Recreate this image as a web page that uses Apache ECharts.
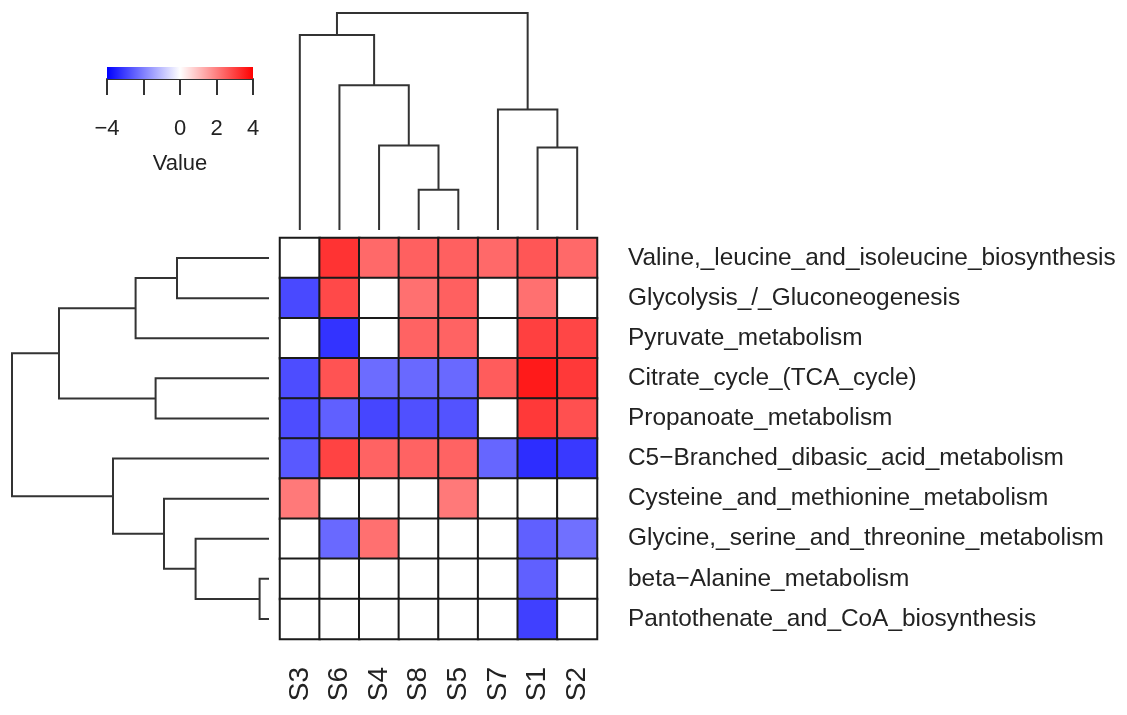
<!DOCTYPE html>
<html>
<head>
<meta charset="utf-8">
<script src="https://cdn.jsdelivr.net/npm/echarts@6/dist/echarts.min.js"></script>
<style>
  html, body { margin: 0; padding: 0; background: #fff; }
  #chart { width: 1127px; height: 715px; }
</style>
</head>
<body>
<div id="chart"></div>
<script>
// Samples in dendrogram (display) order, left to right
const samples = ['S3', 'S6', 'S4', 'S8', 'S5', 'S7', 'S1', 'S2'];

// Pathways in dendrogram (display) order, top to bottom
const pathways = [
  'Valine,_leucine_and_isoleucine_biosynthesis',
  'Glycolysis_/_Gluconeogenesis',
  'Pyruvate_metabolism',
  'Citrate_cycle_(TCA_cycle)',
  'Propanoate_metabolism',
  'C5\u2212Branched_dibasic_acid_metabolism',
  'Cysteine_and_methionine_metabolism',
  'Glycine,_serine_and_threonine_metabolism',
  'beta\u2212Alanine_metabolism',
  'Pantothenate_and_CoA_biosynthesis'
];

// Scaled values, one row per pathway, columns follow `samples`
const values = [
  [ 0.0,  3.2,  2.35,  2.5,  2.5,  2.35,  2.65,  2.35],
  [-2.85, 2.85, 0.0,   2.25, 2.5,  0.0,   2.25,  0.0 ],
  [ 0.0, -3.2,  0.0,   2.45, 2.45, 0.0,   3.0,   2.9 ],
  [-2.8,  2.7, -2.3,  -2.35,-2.35, 2.55,  3.6,   3.1 ],
  [-2.8, -2.5, -2.9,  -2.75,-2.7,  0.0,   3.1,   2.75],
  [-2.6,  2.95, 2.45,  2.45, 2.45,-2.4,  -3.3,  -3.1 ],
  [ 2.1,  0.0,  0.0,   0.0,  2.1,  0.0,   0.0,   0.0 ],
  [ 0.0, -2.35, 2.25,  0.0,  0.0,  0.0,  -2.5,  -2.25],
  [ 0.0,  0.0,  0.0,   0.0,  0.0,  0.0,  -2.5,   0.0 ],
  [ 0.0,  0.0,  0.0,   0.0,  0.0,  0.0,  -3.0,   0.0 ]
];

// Column clustering (hclust style: negative = leaf position, 1-based; positive = earlier merge)
const colMerge = [[-4, -5], [-7, -8], [-3, 1], [-6, 2], [-2, 3], [-1, 5], [6, 4]];
const colHeight = [2.0, 4.1, 4.2, 6.0, 7.2, 9.7, 10.8];

// Row clustering
const rowMerge = [[-9, -10], [-8, 1], [-1, -2], [-7, 2], [-4, -5], [3, -3], [-6, 4], [6, 5], [8, 7]];
const rowHeight = [0.47, 3.67, 4.6, 5.25, 5.67, 6.67, 7.8, 10.5, 12.85];

// Colour key
const keyRange = [-4, 4];
const keyTicks = [-4, -2, 0, 2, 4];
const keyTickLabels = ['\u22124', '', '0', '2', '4'];
const keyTitle = 'Value';

// Build U-shaped links [posA, hA, posB, hB, h] from a merge table
function dendroLinks(merge, heights) {
  const pos = [], hgt = [], links = [];
  const at = (i) => i < 0 ? [-i - 1, 0] : [pos[i - 1], hgt[i - 1]];
  merge.forEach((m, k) => {
    const a = at(m[0]), b = at(m[1]);
    links.push([a[0], a[1], b[0], b[1], heights[k]]);
    pos.push((a[0] + b[0]) / 2);
    hgt.push(heights[k]);
  });
  return links;
}

const heatData = [];
values.forEach((row, r) => row.forEach((v, c) => heatData.push([c, r, v])));

const FONT = "'Liberation Sans', Arial, sans-serif";
const LINK = { stroke: '#333', lineWidth: 2, fill: null };

const chart = echarts.init(document.getElementById('chart'), null, { renderer: 'canvas' });

chart.setOption({
  backgroundColor: '#fff',
  animation: false,
  textStyle: { fontFamily: FONT },
  grid: [
    { left: 280, top: 238, width: 317, height: 401 },          // heatmap
    { left: 280, top: 13, width: 317, height: 217 },            // column dendrogram
    { left: 12, top: 238, width: 257, height: 401 },            // row dendrogram
    { left: 107, top: 67, width: 146, height: 12 }              // colour key
  ],
  xAxis: [
    {
      gridIndex: 0, type: 'category', data: samples, position: 'bottom',
      axisLine: { show: false }, axisTick: { show: false }, splitLine: { show: false },
      axisLabel: { rotate: 90, margin: 28, fontSize: 28, color: '#222', fontFamily: FONT }
    },
    { gridIndex: 1, type: 'value', min: -0.5, max: samples.length - 0.5, show: false },
    { gridIndex: 2, type: 'value', min: 0, max: rowHeight[rowHeight.length - 1], inverse: true, show: false },
    {
      gridIndex: 3, type: 'value', min: keyRange[0], max: keyRange[1], interval: 2,
      position: 'bottom',
      axisLine: { show: true, onZero: false, lineStyle: { color: '#333', width: 2 } },
      axisTick: { show: true, length: 16, lineStyle: { color: '#333', width: 2 } },
      splitLine: { show: false },
      axisLabel: {
        margin: 39, fontSize: 22, color: '#222', fontFamily: FONT,
        formatter: (v) => keyTickLabels[keyTicks.indexOf(v)] ?? ''
      },
      name: keyTitle, nameLocation: 'middle', nameGap: 74,
      nameTextStyle: { fontSize: 22, color: '#222', fontFamily: FONT }
    }
  ],
  yAxis: [
    {
      gridIndex: 0, type: 'category', data: pathways, inverse: true, position: 'right',
      axisLine: { show: false }, axisTick: { show: false }, splitLine: { show: false },
      axisLabel: { margin: 31, fontSize: 24.4, color: '#222', fontFamily: FONT, align: 'left' }
    },
    { gridIndex: 1, type: 'value', min: 0, max: colHeight[colHeight.length - 1], show: false },
    { gridIndex: 2, type: 'value', min: -0.5, max: pathways.length - 0.5, inverse: true, show: false },
    { gridIndex: 3, type: 'value', min: 0, max: 1, show: false }
  ],
  visualMap: {
    show: false, type: 'continuous', seriesIndex: 0,
    min: keyRange[0], max: keyRange[1],
    inRange: { color: ['#0000FF', '#FFFFFF', '#FF0000'] }
  },
  series: [
    {
      type: 'heatmap', xAxisIndex: 0, yAxisIndex: 0, data: heatData,
      itemStyle: { borderColor: '#1a1a1a', borderWidth: 2 },
      emphasis: { disabled: true }
    },
    {
      // column dendrogram: x = leaf position, y = merge height
      type: 'custom', xAxisIndex: 1, yAxisIndex: 1, silent: true,
      data: dendroLinks(colMerge, colHeight),
      renderItem: (params, api) => {
        const pa = api.value(0), ha = api.value(1), pb = api.value(2), hb = api.value(3), h = api.value(4);
        return {
          type: 'polyline',
          shape: { points: [api.coord([pa, ha]), api.coord([pa, h]), api.coord([pb, h]), api.coord([pb, hb])] },
          style: LINK
        };
      }
    },
    {
      // row dendrogram: x = merge height (growing leftwards), y = leaf position
      type: 'custom', xAxisIndex: 2, yAxisIndex: 2, silent: true,
      data: dendroLinks(rowMerge, rowHeight),
      renderItem: (params, api) => {
        const pa = api.value(0), ha = api.value(1), pb = api.value(2), hb = api.value(3), h = api.value(4);
        return {
          type: 'polyline',
          shape: { points: [api.coord([ha, pa]), api.coord([h, pa]), api.coord([h, pb]), api.coord([hb, pb])] },
          style: LINK
        };
      }
    },
    {
      // colour key gradient bar
      type: 'custom', xAxisIndex: 3, yAxisIndex: 3, silent: true,
      data: [[keyRange[0], keyRange[1]]],
      renderItem: (params, api) => {
        const p0 = api.coord([api.value(0), 1]);
        const p1 = api.coord([api.value(1), 0]);
        return {
          type: 'rect',
          shape: { x: p0[0], y: p0[1], width: p1[0] - p0[0], height: p1[1] - p0[1] },
          style: {
            fill: new echarts.graphic.LinearGradient(0, 0, 1, 0, [
              { offset: 0, color: '#0000FF' },
              { offset: 0.5, color: '#FFFFFF' },
              { offset: 1, color: '#FF0000' }
            ])
          }
        };
      }
    }
  ]
});
</script>
</body>
</html>
